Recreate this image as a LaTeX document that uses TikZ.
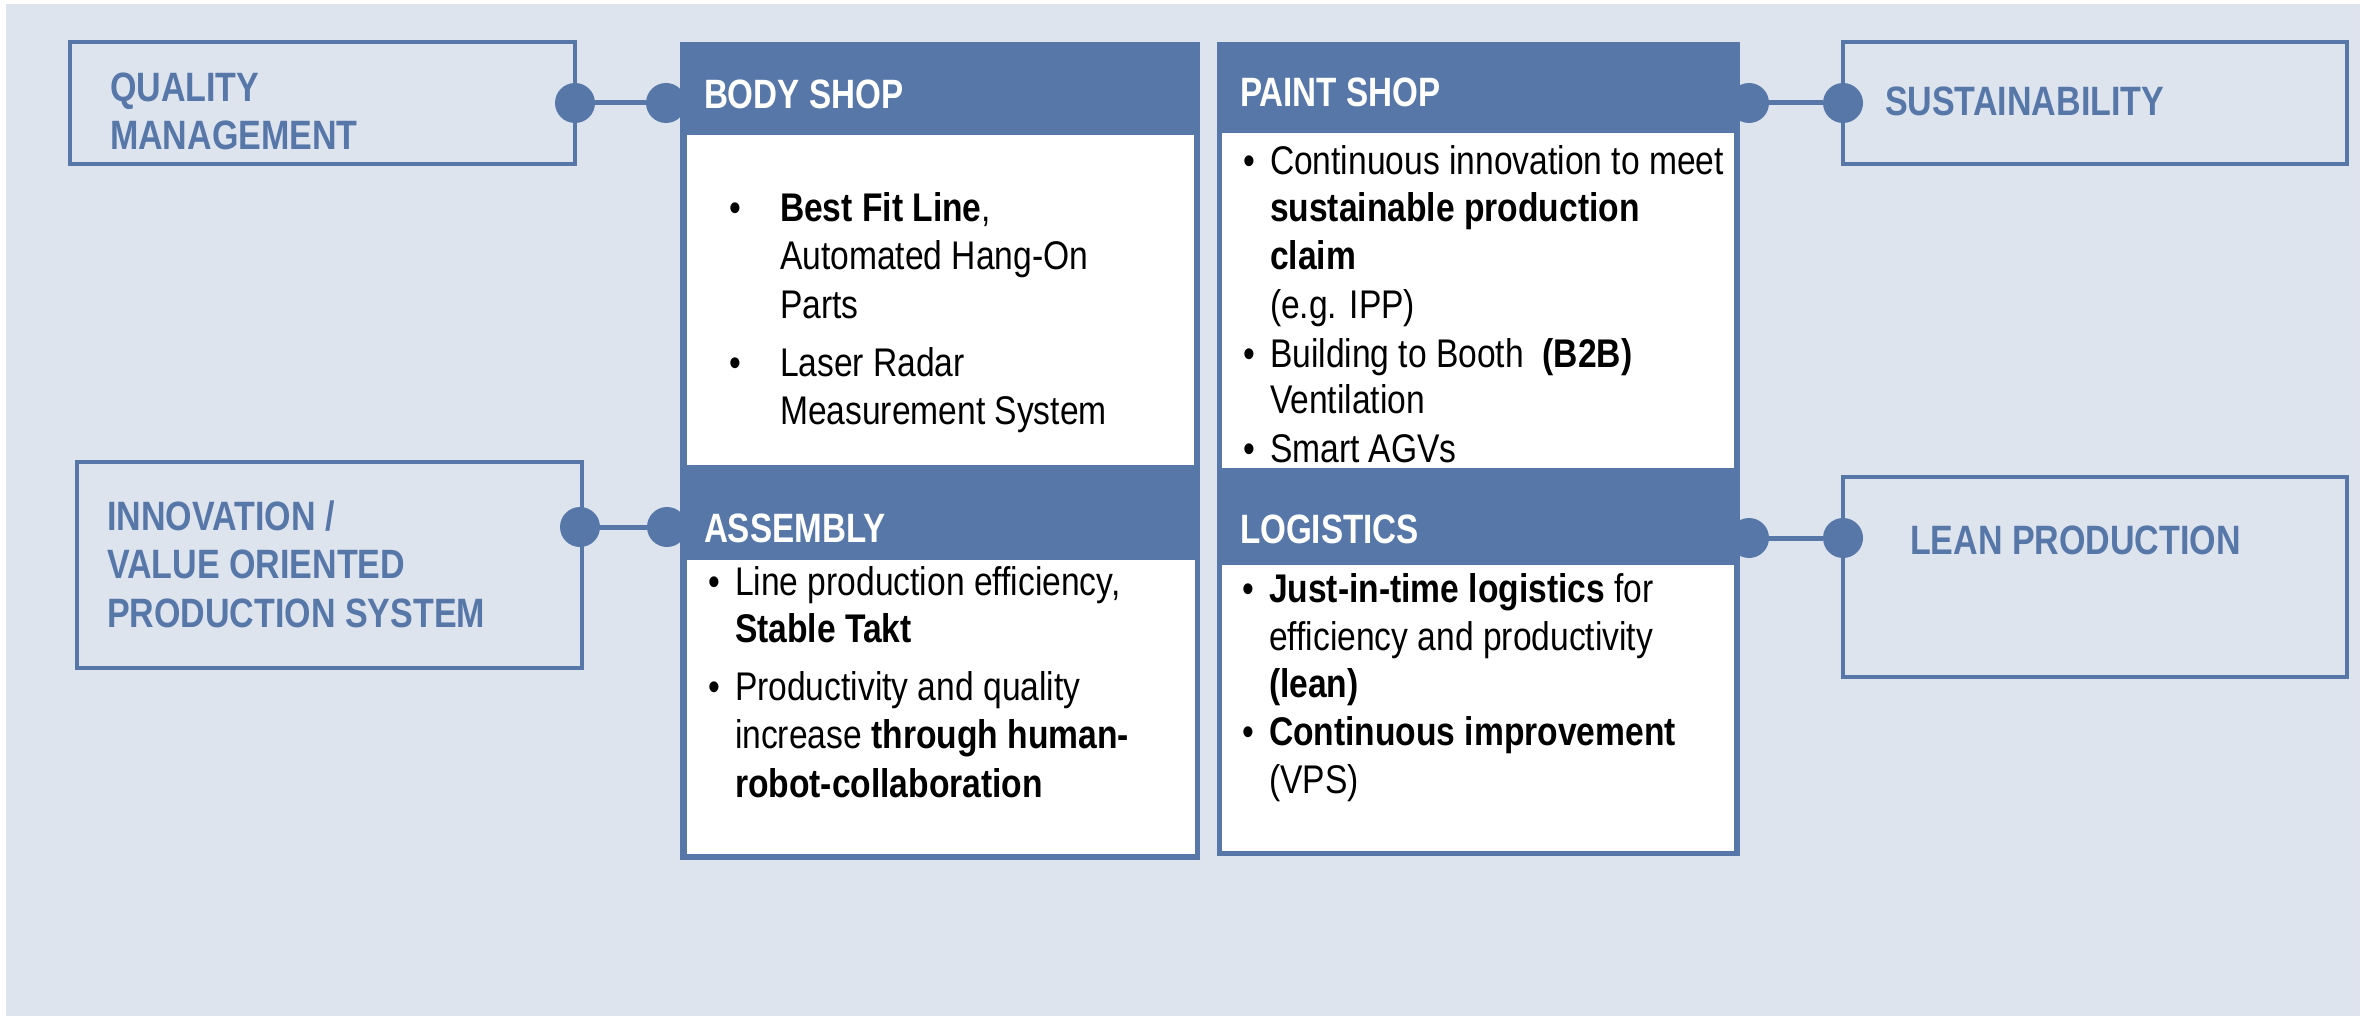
\documentclass[tikz,border=0pt]{standalone}
\usepackage{fontspec}
\setmainfont[FakeStretch=0.84]{Liberation Sans}
\newfontfamily\hdfont[FakeStretch=0.81]{Liberation Sans}
\newfontfamily\sdfont[FakeStretch=0.83]{Liberation Sans}
\usetikzlibrary{fit}
\definecolor{bmwblue}{HTML}{5677A8}
\definecolor{bgblue}{HTML}{DDE4EE}
\begin{document}
\begin{tikzpicture}[x=0.5pt,y=-0.5pt,
  every node/.style={inner sep=0pt, outer sep=0pt},
  panel/.style={fill=bmwblue, draw=none, inner sep=0pt},
  innerbox/.style={fill=white, draw=none, inner sep=0pt},
  sidebox/.style={draw=bmwblue, line width=2pt, inner sep=0pt},
  dotnode/.style={circle, fill=bmwblue, draw=none, minimum size=20pt},
  conn/.style={draw=bmwblue, line width=2.5pt},
  hd/.style={anchor=base west, text=white, font=\hdfont\bfseries\fontsize{20.5}{24}\selectfont},
  sd/.style={anchor=base west, text=bmwblue, font=\sdfont\bfseries\fontsize{20.5}{24}\selectfont},
  bt/.style={anchor=base west, text=black, font=\fontsize{20}{24}\selectfont},
  bl/.style={anchor=base, text=black, font=\fontsize{20}{24}\selectfont},
]
\useasboundingbox (0,0) rectangle (2370,1016);
\fill[white] (0,0) rectangle (2370,1016);
\node[fill=bgblue, inner sep=0pt, fit={(6,4) (2360,1016)}] (bg) {};

% side boxes
\node[sidebox, fit={(70,42) (575,164)}] (qm) {};
\node[sidebox, fit={(1843,42) (2347,164)}] (sus) {};
\node[sidebox, fit={(77,462) (582,668)}] (inno) {};
\node[sidebox, fit={(1843,477) (2347,677)}] (lean) {};

% panels
\node[panel, fit={(680,42) (1200,468)}] (body) {};
\node[innerbox, fit={(687,135) (1194,465)}] (bodyin) {};
\node[panel, fit={(1217,42) (1740,470)}] (paint) {};
\node[innerbox, fit={(1222,133) (1734,468)}] (paintin) {};
\node[panel, fit={(680,467) (1200,860)}] (asm) {};
\node[innerbox, fit={(687,560) (1195,854)}] (asmin) {};
\node[panel, fit={(1217,469) (1740,856)}] (logi) {};
\node[innerbox, fit={(1222,565) (1734,851)}] (logiin) {};

% dots and connectors
\node[dotnode] (dqm) at (575,103) {};
\node[dotnode] (dbody) at (666,103) {};
\node[dotnode] (dpaint) at (1749,103) {};
\node[dotnode] (dsus) at (1843,103) {};
\node[dotnode] (dinno) at (580,527) {};
\node[dotnode] (dasm) at (667,527) {};
\node[dotnode] (dlogi) at (1749,538) {};
\node[dotnode] (dlean) at (1843,538) {};
\draw[conn] (dqm) -- (dbody);
\draw[conn] (dpaint) -- (dsus);
\draw[conn] (dinno) -- (dasm);
\draw[conn] (dlogi) -- (dlean);

% side texts
\node[sd] (tqm1) at (110,102) {QUALITY};
\node[sd] (tqm2) at (110,150) {MANAGEMENT};
\node[sd] (tsus) at (1885,116) {SUSTAINABILITY};
\node[sd] (tin1) at (107,530) {INNOVATION /};
\node[sd] (tin2) at (107,578) {VALUE ORIENTED};
\node[sd] (tin3) at (107,627) {PRODUCTION SYSTEM};
\node[sd] (tlean) at (1910,554) {LEAN PRODUCTION};

% headers
\node[hd] (hbody) at (704,109) {BODY SHOP};
\node[hd] (hpaint) at (1240,107) {PAINT SHOP};
\node[hd] (hasm) at (704,542) {ASSEMBLY};
\node[hd] (hlogi) at (1240,543) {LOGISTICS};

% body shop
\node[bl] (bb1) at (735,222) {•};
\node[bt] (b1) at (780,222) {\textbf{Best Fit Line},};
\node[bt] (b2) at (780,270) {Automated Hang-On};
\node[bt] (b3) at (780,318) {Parts};
\node[bl] (bb2) at (735,376) {•};
\node[bt] (b4) at (780,376) {Laser Radar};
\node[bt] (b5) at (780,424) {Measurement System};

% paint shop
\node[bl] (pb1) at (1249,175) {•};
\node[bt] (p1) at (1270,175) {Continuous innovation to meet};
\node[bt] (p2) at (1270,222) {\textbf{sustainable production}};
\node[bt] (p3) at (1270,270) {\textbf{claim}};
\node[bt] (p4) at (1270,318) {(e.g. IPP)};
\node[bl] (pb2) at (1249,367) {•};
\node[bt] (p5) at (1270,367) {Building to Booth\ \ \textbf{(B2B)}};
\node[bt] (p6) at (1270,413) {Ventilation};
\node[bl] (pb3) at (1249,462) {•};
\node[bt] (p7) at (1270,462) {Smart AGVs};

% assembly
\node[bl] (ab1) at (714,595) {•};
\node[bt] (a1) at (735,595) {Line production efficiency,};
\node[bt] (a2) at (735,642) {\textbf{Stable Takt}};
\node[bl] (ab2) at (714,700) {•};
\node[bt] (a3) at (735,700) {Productivity and quality};
\node[bt] (a4) at (735,748) {increase \textbf{through human-}};
\node[bt] (a5) at (735,797) {\textbf{robot-collaboration}};

% logistics
\node[bl] (lb1) at (1248,602) {•};
\node[bt] (l1) at (1269,602) {\textbf{Just-in-time logistics} for};
\node[bt] (l2) at (1269,650) {efficiency and productivity};
\node[bt] (l3) at (1269,697) {\textbf{(lean)}};
\node[bl] (lb2) at (1248,745) {•};
\node[bt] (l4) at (1269,745) {\textbf{Continuous improvement}};
\node[bt] (l5) at (1269,793) {(VPS)};
\end{tikzpicture}
\end{document}
